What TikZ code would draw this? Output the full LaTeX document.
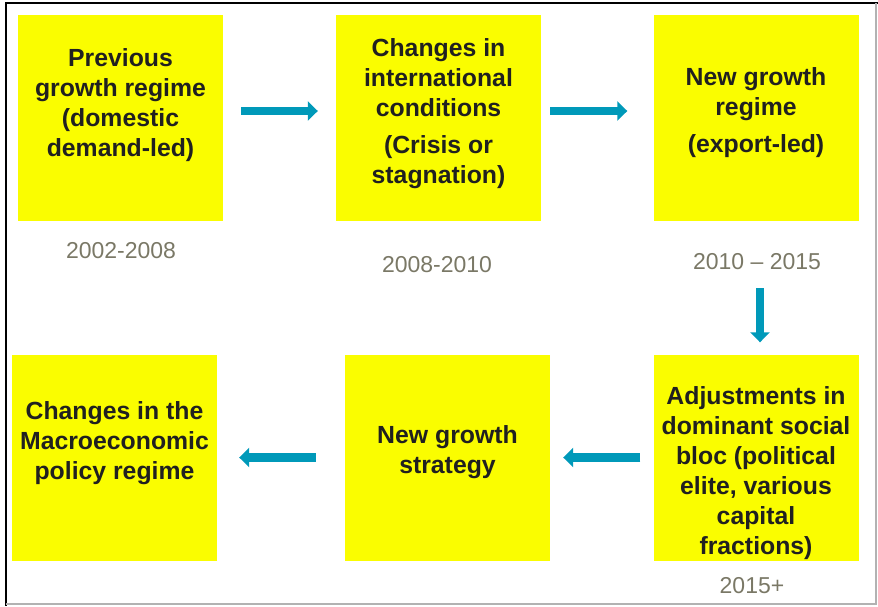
\documentclass[tikz,border=0pt]{standalone}
\usepackage{fontspec}
\setmainfont{Liberation Sans}
\usepackage{xcolor}
\usetikzlibrary{arrows.meta,positioning}

\definecolor{boxyellow}{HTML}{FAFD00}
\definecolor{arrteal}{HTML}{0099B9}
\definecolor{txtdark}{HTML}{202020}
\definecolor{yeargray}{HTML}{7A7866}

\begin{document}
\begin{tikzpicture}[
    x=1pt, y=-1pt,
    box/.style={fill=boxyellow, minimum width=205pt, minimum height=206pt,
                inner sep=0pt},
    txt/.style={align=center, text=txtdark, inner sep=0pt,
                font=\fontsize{24.8}{30}\selectfont\bfseries},
    year/.style={text=yeargray, font=\fontsize{23}{27}\selectfont},
    arr/.style={-{Triangle[length=10pt, width=19pt]}, line width=8.5pt,
                draw=arrteal}
  ]
  \useasboundingbox (0,0) rectangle (878,606);

  % frame
  \draw[line width=2pt] (878,3) -- (6,3) -- (6,606);
  \draw[black!30, line width=1.5pt] (876,3) -- (876,604) -- (6,604);

  % top row
  \node[box] (prev) at (120.5,118) {};
  \node[box] (intl) at (438.5,118) {};
  \node[box] (newreg) at (756,118) {};
  % bottom row
  \node[box] (bloc) at (756,457.5) {};
  \node[box] (strat) at (447.5,457.5) {};
  \node[box] (macro) at (114.5,457.5) {};

  \node[txt] (prevtxt) at ([yshift=13pt]prev.center)
    {Previous\\growth regime\\(domestic\\demand-led)};
  \node[txt] (intltxt) at ([yshift=4pt]intl.center)
    {Changes in\\international\\conditions\\[7pt](Crisis or\\stagnation)};
  \node[txt] (newregtxt) at ([yshift=5pt]newreg.center)
    {New growth\\regime\\[7pt](export-led)};
  \node[txt] (bloctxt) at ([yshift=-16pt]bloc.center)
    {Adjustments in\\dominant social\\bloc (political\\elite, various\\capital\\fractions)};
  \node[txt] (strattxt) at ([yshift=5pt]strat.center)
    {New growth\\strategy};
  \node[txt] (macrotxt) at ([yshift=14pt]macro.center)
    {Changes in the\\Macroeconomic\\policy regime};

  % years
  \node[year] (y1) at (121,251) {2002-2008};
  \node[year] (y2) at (437,265) {2008-2010};
  \node[year] (y3) at (757,262) {2010 -- 2015};
  \node[year] (y4) at (752,586) {2015+};

  \draw[arr, shorten <=18pt, shorten >=18pt]
    ([yshift=7pt]prev.east) -- ([yshift=7pt]intl.west);
  \draw[arr, shorten <=9pt, shorten >=26pt]
    ([yshift=7pt]intl.east) -- ([yshift=7pt]newreg.west);
  \draw[arr, shorten <=67pt, shorten >=12pt]
    ([xshift=4pt]newreg.south) -- ([xshift=4pt]bloc.north);
  \draw[arr, shorten <=13pt, shorten >=13pt] (bloc.west) -- (strat.east);
  \draw[arr, shorten <=29pt, shorten >=22pt] (strat.west) -- (macro.east);
\end{tikzpicture}
\end{document}
